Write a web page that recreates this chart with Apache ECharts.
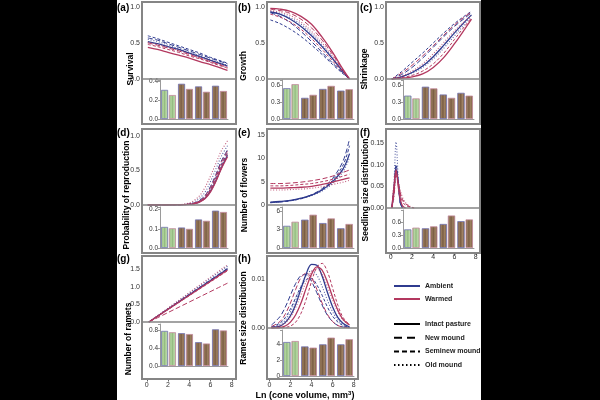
<!DOCTYPE html>
<html>
<head>
<meta charset="utf-8">
<script src="https://cdn.jsdelivr.net/npm/echarts@6.0.0/dist/echarts.min.js"></script>
<style>
html, body { margin: 0; padding: 0; background: #000; }
#chart { position: absolute; left: 0; top: 0; width: 600px; height: 400px; }
</style>
</head>
<body>
<div id="chart"></div>
<script>
// curve order in every *Curves array:
// ambient intact, new, seminew, old mound, then warmed intact, new, seminew, old mound
// bar order in every *Bars array: (ambient, warmed) for intact, new, seminew, old mound
var habitats = ['Intact pasture', 'New mound', 'Seminew mound', 'Old mound'];
var treatments = ['Ambient', 'Warmed'];

var xLine = [0.1, 1, 2, 3, 4, 5, 6, 7, 7.6];
var xRepro = [0.1, 3, 4, 4.5, 5, 5.5, 6, 6.5, 7, 7.6];
var xSeedling = [0.1, 0.3, 0.5, 0.7, 0.9, 1.1, 1.4, 1.8, 2.2];
var xRamets = [0.2, 7.6];
var xRametSize = [0.2, 1, 1.5, 2, 2.5, 3, 3.5, 4, 4.5, 5, 5.5, 6, 6.5, 7, 7.6];

var survivalCurves = [
  [0.52, 0.49, 0.45, 0.41, 0.36, 0.31, 0.26, 0.21, 0.18],
  [0.57, 0.54, 0.49, 0.44, 0.39, 0.34, 0.29, 0.24, 0.21],
  [0.60, 0.56, 0.51, 0.46, 0.41, 0.36, 0.30, 0.25, 0.22],
  [0.55, 0.52, 0.47, 0.42, 0.37, 0.32, 0.27, 0.22, 0.19],
  [0.44, 0.41, 0.37, 0.33, 0.29, 0.24, 0.20, 0.15, 0.12],
  [0.50, 0.47, 0.43, 0.39, 0.34, 0.29, 0.24, 0.19, 0.16],
  [0.48, 0.45, 0.41, 0.37, 0.32, 0.28, 0.23, 0.18, 0.15],
  [0.51, 0.48, 0.44, 0.40, 0.35, 0.30, 0.25, 0.20, 0.17]
];
var growthCurves = [
  [0.93, 0.90, 0.83, 0.73, 0.60, 0.45, 0.28, 0.10, 0],
  [0.92, 0.87, 0.78, 0.66, 0.52, 0.37, 0.22, 0.08, 0],
  [0.82, 0.77, 0.69, 0.59, 0.47, 0.34, 0.20, 0.07, 0],
  [0.94, 0.91, 0.85, 0.76, 0.63, 0.47, 0.29, 0.10, 0],
  [0.98, 0.97, 0.94, 0.87, 0.76, 0.58, 0.37, 0.13, 0],
  [0.97, 0.95, 0.91, 0.83, 0.71, 0.54, 0.34, 0.12, 0],
  [0.90, 0.86, 0.79, 0.69, 0.56, 0.41, 0.25, 0.09, 0],
  [0.95, 0.93, 0.88, 0.79, 0.66, 0.50, 0.31, 0.11, 0]
];
var shrinkCurves = [
  [0, 0.03, 0.09, 0.18, 0.31, 0.47, 0.64, 0.80, 0.89],
  [0, 0.06, 0.16, 0.29, 0.44, 0.59, 0.73, 0.85, 0.92],
  [0, 0.10, 0.23, 0.36, 0.50, 0.64, 0.77, 0.88, 0.94],
  [0, 0.03, 0.08, 0.16, 0.28, 0.43, 0.60, 0.77, 0.87],
  [0, 0.01, 0.03, 0.07, 0.16, 0.30, 0.49, 0.70, 0.83],
  [0, 0.08, 0.19, 0.32, 0.46, 0.61, 0.75, 0.87, 0.93],
  [0, 0.02, 0.05, 0.11, 0.21, 0.36, 0.55, 0.74, 0.85],
  [0, 0.04, 0.11, 0.21, 0.35, 0.51, 0.67, 0.81, 0.89]
];
var reproCurves = [
  [0, 0.001, 0.008, 0.02, 0.05, 0.10, 0.20, 0.35, 0.53, 0.72],
  [0, 0.002, 0.01, 0.03, 0.07, 0.14, 0.27, 0.44, 0.63, 0.80],
  [0, 0.002, 0.01, 0.025, 0.06, 0.12, 0.23, 0.40, 0.58, 0.76],
  [0, 0.003, 0.02, 0.05, 0.10, 0.19, 0.34, 0.52, 0.70, 0.86],
  [0, 0.001, 0.008, 0.02, 0.045, 0.095, 0.19, 0.34, 0.52, 0.70],
  [0, 0.002, 0.01, 0.03, 0.06, 0.13, 0.25, 0.42, 0.61, 0.78],
  [0, 0.002, 0.01, 0.025, 0.055, 0.11, 0.22, 0.38, 0.56, 0.74],
  [0, 0.005, 0.03, 0.07, 0.14, 0.26, 0.42, 0.60, 0.78, 0.93]
];
var flowerCurves = [
  [0.6, 0.75, 1.0, 1.45, 2.1, 3.2, 5.0, 7.8, 11],
  [0.5, 0.65, 0.95, 1.4, 2.2, 3.5, 5.7, 9.5, 14.2],
  [0.5, 0.65, 0.9, 1.35, 2.1, 3.3, 5.3, 8.6, 12.7],
  [0.55, 0.7, 0.95, 1.35, 2.0, 3.0, 4.6, 7.2, 10.2],
  [3.6, 3.6, 3.7, 3.8, 4.0, 4.4, 4.9, 5.5, 5.8],
  [4.6, 4.6, 4.7, 4.9, 5.2, 5.6, 6.2, 7.0, 7.5],
  [4.1, 4.1, 4.2, 4.4, 4.6, 5.0, 5.5, 6.2, 6.6],
  [3.2, 3.2, 3.3, 3.4, 3.6, 3.9, 4.4, 4.9, 5.3]
];
var seedlingCurves = [
  [0, 0.04, 0.09, 0.06, 0.015, 0, null, null, null],
  [0, 0.045, 0.095, 0.055, 0.01, 0, null, null, null],
  [0, 0.04, 0.10, 0.06, 0.012, 0, null, null, null],
  [0, 0.06, 0.152, 0.07, 0.01, 0, null, null, null],
  [0, 0.05, 0.088, 0.05, 0.02, 0.005, 0, null, null],
  [0, 0.03, 0.08, 0.06, 0.035, 0.02, 0.01, 0.003, 0],
  [0, 0.035, 0.085, 0.055, 0.03, 0.015, 0.006, 0.002, 0],
  [0, 0.025, 0.075, 0.06, 0.04, 0.025, 0.012, 0.004, 0]
];
var rametCurves = [
  [0, 1.50], [0, 1.52], [0, 1.49], [0, 1.58],
  [0, 1.47], [0, 1.10], [0, 1.45], [0, 1.62]
];
var rametSizeCurves = [
  [0.0001, 0.0004, 0.0011, 0.0025, 0.0048, 0.0080, 0.0111, 0.0130, 0.0128, 0.0106, 0.0073, 0.0043, 0.0021, 0.0009, 0.0002],
  [0.0006, 0.0023, 0.0042, 0.0067, 0.0091, 0.0107, 0.0109, 0.0095, 0.0072, 0.0047, 0.0026, 0.0013, 0.0005, 0.0002, 0.0001],
  [0.0002, 0.0010, 0.0021, 0.0039, 0.0062, 0.0084, 0.0099, 0.0101, 0.0088, 0.0067, 0.0043, 0.0024, 0.0012, 0.0005, 0.0001],
  [0.0001, 0.0007, 0.0016, 0.0033, 0.0057, 0.0085, 0.0108, 0.0117, 0.0108, 0.0085, 0.0057, 0.0033, 0.0016, 0.0007, 0.0002],
  [0, 0.0001, 0.0004, 0.0012, 0.0027, 0.0051, 0.0082, 0.0110, 0.0125, 0.0118, 0.0094, 0.0063, 0.0036, 0.0017, 0.0006],
  [0.0003, 0.0013, 0.0028, 0.0051, 0.0079, 0.0103, 0.0112, 0.0103, 0.0079, 0.0051, 0.0028, 0.0013, 0.0005, 0.0002, 0],
  [0, 0, 0.0001, 0.0004, 0.0012, 0.0030, 0.0059, 0.0095, 0.0124, 0.0132, 0.0115, 0.0081, 0.0046, 0.0021, 0.0007],
  [0.0001, 0.0004, 0.0010, 0.0022, 0.0042, 0.0068, 0.0095, 0.0115, 0.0121, 0.0109, 0.0085, 0.0057, 0.0033, 0.0016, 0.0006]
];

var survivalBars = [0.31, 0.255, 0.375, 0.32, 0.347, 0.29, 0.354, 0.298];
var growthBars = [0.553, 0.625, 0.38, 0.434, 0.54, 0.595, 0.51, 0.535];
var shrinkBars = [0.42, 0.37, 0.58, 0.55, 0.44, 0.38, 0.47, 0.42];
var reproBars = [0.11, 0.103, 0.107, 0.10, 0.149, 0.142, 0.195, 0.188];
var flowerBars = [3.6, 4.26, 4.6, 5.4, 4.05, 4.8, 3.2, 3.9];
var seedlingBars = [0.43, 0.47, 0.455, 0.50, 0.555, 0.75, 0.62, 0.66];
var rametBars = [0.78, 0.75, 0.73, 0.71, 0.53, 0.50, 0.815, 0.79];
var rametSizeBars = [4.25, 4.375, 3.7, 3.55, 3.96, 4.8, 3.96, 4.6];

var xTicks = [0, 2, 4, 6, 8];

// ---- styles / layout ----
var FONT = 'Liberation Sans, Arial, sans-serif';
var AMB = '#2f3b8f', WARM = '#b3385f';
var AMB_EDGE = '#7474b4', WARM_EDGE = '#c48a9e';
var dashTypes = ['solid', [5, 2.5], [3, 2], [1, 1.8]];
var lineWidths = [1.3, 1, 1, 1.1];
var FRAME = '#858585';
var XMAX = 8.4;

var greenFill = {type: 'linear', x: 0, y: 0, x2: 1, y2: 0, colorStops: [
  {offset: 0, color: '#86b073'}, {offset: 0.3, color: '#b4d3a0'}, {offset: 0.5, color: '#93bd7f'},
  {offset: 0.75, color: '#bcd9aa'}, {offset: 1, color: '#8ab575'}]};
var brownFill = {type: 'linear', x: 0, y: 0, x2: 1, y2: 0, colorStops: [
  {offset: 0, color: '#6f533b'}, {offset: 0.25, color: '#987a5c'}, {offset: 0.45, color: '#7a5d43'},
  {offset: 0.7, color: '#a08262'}, {offset: 1, color: '#6d5039'}]};

var cols = [
  {l: 142, r: 236, xmin: -0.45, bl: 160, br: 228, tagX: 117},
  {l: 267, r: 358, xmin: -0.22, bl: 282, br: 354, tagX: 238},
  {l: 386, r: 480, xmin: -0.45, bl: 403, br: 474, tagX: 360}
];

var panels = [
  {tag: '(a)', name: 'Survival', col: 0, top: 3, sep: 79, bTop: 80, bBot: 119, bottom: 124, tx: 131, ty: 69, tagY: 8,
   xs: xLine, curves: survivalCurves, bars: survivalBars, yMax: 1.055, yStep: 0.5, yDec: 1, bMax: 0.415, bStep: 0.2, bDec: 1},
  {tag: '(b)', name: 'Growth', col: 1, top: 3, sep: 79, bTop: 80, bBot: 119, bottom: 124, tx: 244, ty: 66, tagY: 8,
   xs: xLine, curves: growthCurves, bars: growthBars, yMax: 1.055, yStep: 0.5, yDec: 1, bMax: 0.70, bStep: 0.3, bDec: 1},
  {tag: '(c)', name: 'Shrinkage', col: 2, top: 3, sep: 79, bTop: 80, bBot: 119, bottom: 124, tx: 365, ty: 69, tagY: 8,
   xs: xLine, curves: shrinkCurves, bars: shrinkBars, yMax: 1.055, yStep: 0.5, yDec: 1, bMax: 0.70, bStep: 0.3, bDec: 1},
  {tag: '(d)', name: 'Probability of reproduction', col: 0, top: 130, sep: 205, bTop: 207, bBot: 248, bottom: 253, tx: 127, ty: 195, tagY: 133,
   xs: xRepro, curves: reproCurves, bars: reproBars, yMax: 1.087, yStep: 0.5, yDec: 1, bMax: 0.214, bStep: 0.1, bDec: 1},
  {tag: '(e)', name: 'Number of flowers', col: 1, top: 130, sep: 205, bTop: 207, bBot: 248, bottom: 253, tx: 245, ty: 195, tagY: 133,
   xs: xLine, curves: flowerCurves, bars: flowerBars, yMax: 16.07, yStep: 5, yDec: 0, bMax: 6.65, bStep: 3, bDec: 0},
  {tag: '(f)', name: 'Seedling size distribution', col: 2, top: 130, sep: 208, bTop: 210, bBot: 248, bottom: 253, tx: 366, ty: 190, tagY: 133,
   xs: xSeedling, curves: seedlingCurves, bars: seedlingBars, yMax: 0.18, yStep: 0.05, yDec: 2, bMax: 0.877, bStep: 0.3, bDec: 1, ticks: 1},
  {tag: '(g)', name: 'Number of ramets', col: 0, top: 257, sep: 322, bTop: 324, bBot: 366, bottom: 379, tx: 129, ty: 339, tagY: 259,
   xs: xRamets, curves: rametCurves, bars: rametBars, yMax: 1.84, yStep: 0.5, yDec: 1, bMax: 0.933, bStep: 0.4, bDec: 1, ticks: 3},
  {tag: '(h)', name: 'Ramet size distribution', col: 1, top: 257, sep: 328, bTop: 330, bBot: 376, bottom: 379, tx: 244, ty: 318, tagY: 259,
   xs: xRametSize, curves: rametSizeCurves, bars: rametSizeBars, yMax: 0.0145, yStep: 0.01, yDec: 2, bMax: 5.75, bStep: 2, bDec: 0, ticks: 3}
];

function tickFmt(step, dec) {
  return function (v) {
    var k = v / step;
    return Math.abs(k - Math.round(k)) < 1e-6 ? v.toFixed(dec) : '';
  };
}

var grids = [], xAxes = [], yAxes = [], series = [], graphics = [];

graphics.push({type: 'rect', z: -10, shape: {x: 117, y: 0, width: 364, height: 400}, style: {fill: '#fff'}});

panels.forEach(function (p) {
  var c = cols[p.col];
  var gi = grids.length;
  // line part
  grids.push({left: c.l, top: p.top, width: c.r - c.l, height: p.sep - p.top});
  xAxes.push({gridIndex: gi, type: 'value', min: c.xmin, max: XMAX, show: false});
  yAxes.push({gridIndex: gi, type: 'value', min: 0, max: p.yMax, interval: p.yStep,
    axisLine: {show: false}, axisTick: {show: false}, splitLine: {show: false},
    axisLabel: {fontSize: 7, color: '#333', margin: 2, fontFamily: FONT, formatter: tickFmt(p.yStep, p.yDec)}});
  p.curves.forEach(function (cv, i) {
    var h = i % 4, t = i < 4 ? 0 : 1;
    series.push({type: 'line', name: p.tag + i, xAxisIndex: gi, yAxisIndex: gi,
      data: p.xs.map(function (x, k) { return [x, cv[k]]; }),
      showSymbol: false, symbol: 'none', smooth: 0.35, silent: true, animation: false, connectNulls: false,
      lineStyle: {color: t ? WARM : AMB, width: lineWidths[h], type: dashTypes[h], opacity: h === 3 ? 0.8 : 1}});
  });

  // bar part
  var bi = grids.length;
  grids.push({left: c.bl, top: p.bTop, width: c.br - c.bl, height: p.bBot - p.bTop});
  xAxes.push({gridIndex: bi, type: 'category', data: habitats,
    axisLine: {show: true, lineStyle: {color: '#9a9a9a', width: 1}}, axisTick: {show: false}, axisLabel: {show: false}});
  yAxes.push({gridIndex: bi, type: 'value', min: 0, max: p.bMax, interval: p.bStep,
    axisLine: {show: true, lineStyle: {color: '#9a9a9a', width: 1}},
    axisTick: {show: true, length: 2, lineStyle: {color: '#9a9a9a'}}, splitLine: {show: false},
    axisLabel: {fontSize: 6.5, color: '#333', margin: 2, fontFamily: FONT, formatter: tickFmt(p.bStep, p.bDec)}});
  [0, 1].forEach(function (t) {
    series.push({type: 'bar', name: p.tag + treatments[t], xAxisIndex: bi, yAxisIndex: bi,
      barGap: '12%', barCategoryGap: '12%', silent: true, animation: false,
      data: habitats.map(function (hb, h) {
        return {value: p.bars[h * 2 + t],
          itemStyle: {color: h === 0 ? greenFill : brownFill, borderColor: t ? WARM_EDGE : AMB_EDGE, borderWidth: 0.8}};
      })});
  });

  // x tick labels under the bottom panels
  if (p.ticks !== undefined) {
    var pxu = (c.r - c.l) / (XMAX - c.xmin);
    var x0 = c.l + (0 - c.xmin) * pxu;
    var ti = grids.length;
    grids.push({left: x0, top: p.bottom - 1, width: 8 * pxu, height: 1});
    xAxes.push({gridIndex: ti, type: 'value', min: xTicks[0], max: xTicks[xTicks.length - 1], interval: xTicks[1] - xTicks[0],
      axisLine: {show: false}, splitLine: {show: false},
      axisTick: {show: true, length: 2.5, lineStyle: {color: '#666'}},
      axisLabel: {fontSize: 7, color: '#333', margin: p.ticks, fontFamily: FONT}});
    yAxes.push({gridIndex: ti, type: 'value', show: false});
  }

  // frame, separator, labels
  graphics.push({type: 'rect', z: 50, shape: {x: c.l, y: p.top - 1, width: c.r - c.l, height: p.bottom - p.top + 1},
    style: {fill: 'none', stroke: FRAME, lineWidth: 2}});
  graphics.push({type: 'line', z: 50, shape: {x1: c.l, y1: p.sep, x2: c.r, y2: p.sep},
    style: {stroke: FRAME, lineWidth: 1.5}});
  graphics.push({type: 'text', z: 60, x: c.tagX, y: p.tagY,
    style: {text: p.tag, font: 'bold 10px ' + FONT, fill: '#000', verticalAlign: 'middle'}});
  graphics.push({type: 'text', z: 60, x: p.tx, y: p.ty, rotation: Math.PI / 2,
    style: {text: p.name, font: 'bold 8.5px ' + FONT, fill: '#000', align: 'center', verticalAlign: 'middle'}});
});

graphics.push({type: 'text', z: 60, x: 305, y: 396,
  style: {text: 'Ln (cone volume, mm{s|3})', font: 'bold 9px ' + FONT, fill: '#000', align: 'center', verticalAlign: 'middle',
    rich: {s: {fontSize: 6, fontWeight: 'bold', verticalAlign: 'top', padding: [0, 0, 5, 0], fontFamily: FONT}}}});

// legend-only series
treatments.forEach(function (t, i) {
  series.push({type: 'line', name: t, xAxisIndex: 0, yAxisIndex: 0, data: [], symbol: 'none', silent: true,
    itemStyle: {color: i ? WARM : AMB}, lineStyle: {color: i ? WARM : AMB, width: 1, type: 'solid'}});
});
habitats.forEach(function (hb, h) {
  series.push({type: 'line', name: hb, xAxisIndex: 0, yAxisIndex: 0, data: [], symbol: 'none', silent: true,
    itemStyle: {color: '#000'}, lineStyle: {color: '#000', width: h === 0 ? 2 : 1.8, type: ['solid', [8, 5], [5, 3], [1.5, 2.5]][h]}});
});

var legendText = {fontSize: 7, fontWeight: 'bold', color: '#222', fontFamily: FONT};
var hiddenMark = {opacity: 0, color: 'rgba(0,0,0,0)', borderWidth: 0};
var chart = echarts.init(document.getElementById('chart'), null, {renderer: 'canvas'});
chart.setOption({
  backgroundColor: '#000',
  animation: false,
  grid: grids,
  xAxis: xAxes,
  yAxis: yAxes,
  series: series,
  graphic: graphics,
  legend: [
    {data: treatments, orient: 'vertical', left: 388, top: 277, itemWidth: 26, itemHeight: 10, itemGap: 5,
     selectedMode: false, textStyle: legendText, itemStyle: hiddenMark},
    {data: habitats, orient: 'vertical', left: 388, top: 315, itemWidth: 26, itemHeight: 10, itemGap: 5.7,
     selectedMode: false, textStyle: legendText, itemStyle: hiddenMark}
  ]
});
</script>
</body>
</html>
